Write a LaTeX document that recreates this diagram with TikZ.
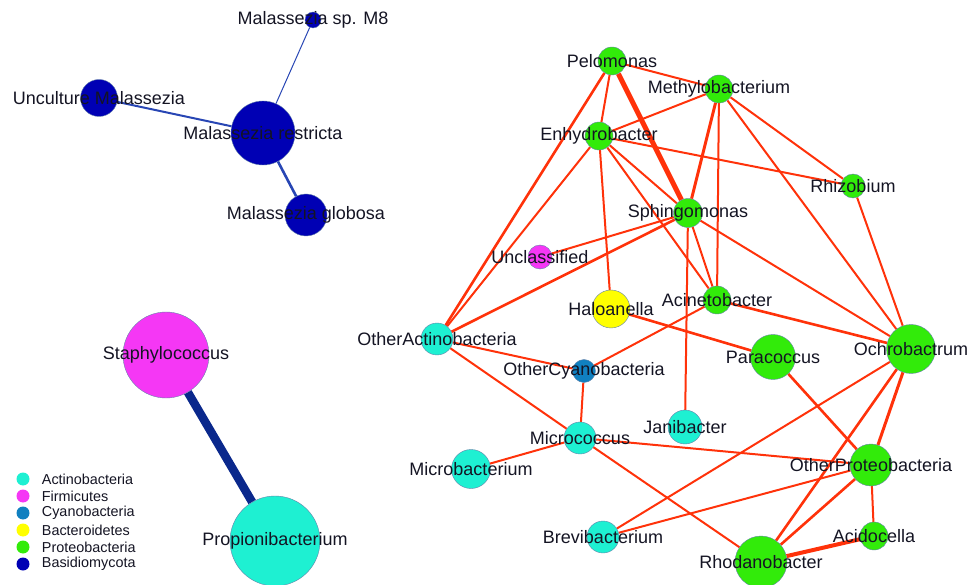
\documentclass[tikz,border=0pt]{standalone}
\usepackage{fontspec}
\setmainfont{Liberation Sans}
\usepackage{tikz}
\usetikzlibrary{positioning}
\pgfdeclarelayer{bg}
\pgfsetlayers{bg,main}
\definecolor{actino}{RGB}{30,240,210}
\definecolor{firmi}{RGB}{245,55,245}
\definecolor{cyano}{RGB}{16,128,192}
\definecolor{bactero}{RGB}{255,255,0}
\definecolor{proteo}{RGB}{50,235,10}
\definecolor{basidio}{RGB}{0,0,180}
\definecolor{rim}{RGB}{100,130,170}
\definecolor{edgered}{RGB}{255,50,10}
\definecolor{fungblue}{RGB}{40,70,180}
\definecolor{staphblue}{RGB}{10,40,140}
\definecolor{ink}{RGB}{20,20,35}

\begin{document}
\begin{tikzpicture}[x=1pt,y=-1pt,
    taxon/.style={circle,draw=rim,line width=0.4pt,inner sep=0pt,minimum size=#1},
    lab/.style={font=\fontsize{18}{20}\selectfont,text=ink,inner sep=0pt},
    link/.style={draw=edgered,line width=2pt},
    fung/.style={draw=fungblue,line width=#1}]
    \useasboundingbox (0,0) rectangle (972,585);

    % Malassezia cluster
    \node[taxon=16,fill=basidio,label={[lab]center:Malassezia sp. M8}] (msp) at (313,20) {};
    \node[taxon=37,fill=basidio,label={[lab]center:Unculture Malassezia}] (munc) at (99,98) {};
    \node[taxon=64,fill=basidio,label={[lab]center:Malassezia restricta}] (mres) at (263,133) {};
    \node[taxon=42,fill=basidio,label={[lab]center:Malassezia globosa}] (mglo) at (306,215) {};

    % Staphylococcus pair
    \node[taxon=86,fill=firmi,label={[lab]center:Staphylococcus}] (staph) at (166,355) {};
    \node[taxon=90,fill=actino,label={[lab]center:Propionibacterium}] (propi) at (275,541) {};

    % Bacterial network
    \node[taxon=28,fill=proteo,label={[lab]center:Pelomonas}] (pelo) at (612,61) {};
    \node[taxon=28,fill=proteo,label={[lab]center:Methylobacterium}] (methy) at (719,89) {};
    \node[taxon=28,fill=proteo,label={[lab]center:Enhydrobacter}] (enhy) at (599,136) {};
    \node[taxon=24,fill=proteo,label={[lab]center:Rhizobium}] (rhizo) at (853,186) {};
    \node[taxon=29,fill=proteo,label={[lab]center:Sphingomonas}] (sphin) at (688,213) {};
    \node[taxon=24,fill=firmi,label={[lab]center:Unclassified}] (uncl) at (540,257) {};
    \node[taxon=38,fill=bactero,label={[lab]center:Haloanella}] (halo) at (611,309) {};
    \node[taxon=28,fill=proteo,label={[lab]center:Acinetobacter}] (acine) at (717,300) {};
    \node[taxon=32,fill=actino,label={[lab]center:OtherActinobacteria}] (oactino) at (437,339) {};
    \node[taxon=49,fill=proteo,label={[lab]center:Ochrobactrum}] (ochro) at (911,349) {};
    \node[taxon=45,fill=proteo,label={[lab]center:Paracoccus}] (para) at (773,357) {};
    \node[taxon=23,fill=cyano,label={[lab]center:OtherCyanobacteria}] (ocyano) at (584,371) {};
    \node[taxon=34,fill=actino,label={[lab]center:Janibacter}] (jani) at (685,427) {};
    \node[taxon=32,fill=actino,label={[lab]center:Micrococcus}] (micro) at (580,438) {};
    \node[taxon=39,fill=actino,label={[lab]center:Microbacterium}] (mbact) at (471,469) {};
    \node[taxon=42,fill=proteo,label={[lab]center:OtherProteobacteria}] (oproteo) at (871,465) {};
    \node[taxon=32,fill=actino,label={[lab]center:Brevibacterium}] (brevi) at (603,537) {};
    \node[taxon=28,fill=proteo,label={[lab]center:Acidocella}] (acido) at (874,536) {};
    \node[taxon=52,fill=proteo,label={[lab]center:Rhodanobacter}] (rhoda) at (761,562) {};

    \begin{pgfonlayer}{bg}
    % fungal links
    \draw[fung=1pt] (mres) -- (msp);
    \draw[fung=2pt] (mres) -- (munc);
    \draw[fung=2.6pt] (mres) -- (mglo);
    \draw[draw=staphblue,line width=8.5pt] (staph) -- (propi);

    % bacterial links
    \draw[link,line width=5pt] (pelo) -- (sphin);
    \draw[link] (pelo) -- (methy);
    \draw[link] (pelo) -- (enhy);
    \draw[link,line width=2.6pt] (pelo) -- (oactino);
    \draw[link] (methy) -- (enhy);
    \draw[link,line width=3pt] (methy) -- (sphin);
    \draw[link] (methy) -- (acine);
    \draw[link] (methy) -- (rhizo);
    \draw[link] (methy) -- (ochro);
    \draw[link] (enhy) -- (rhizo);
    \draw[link] (enhy) -- (sphin);
    \draw[link] (enhy) -- (acine);
    \draw[link] (enhy) -- (halo);
    \draw[link] (enhy) -- (oactino);
    \draw[link] (sphin) -- (uncl);
    \draw[link,line width=2.6pt] (sphin) -- (oactino);
    \draw[link] (sphin) -- (acine);
    \draw[link] (sphin) -- (jani);
    \draw[link] (sphin) -- (ochro);
    \draw[link] (rhizo) -- (ochro);
    \draw[link,line width=2.6pt] (acine) -- (ochro);
    \draw[link] (acine) -- (ocyano);
    \draw[link,line width=2.6pt] (halo) -- (para);
    \draw[link] (oactino) -- (ocyano);
    \draw[link] (oactino) -- (micro);
    \draw[link] (ocyano) -- (micro);
    \draw[link] (micro) -- (mbact);
    \draw[link] (micro) -- (oproteo);
    \draw[link] (micro) -- (rhoda);
    \draw[link,line width=2.6pt] (para) -- (oproteo);
    \draw[link,line width=3pt] (ochro) -- (oproteo);
    \draw[link] (ochro) -- (brevi);
    \draw[link,line width=2.6pt] (ochro) -- (rhoda);
    \draw[link] (oproteo) -- (brevi);
    \draw[link] (oproteo) -- (acido);
    \draw[link,line width=2.6pt] (oproteo) -- (rhoda);
    \draw[link,line width=4pt] (acido) -- (rhoda);
    \end{pgfonlayer}

    % Legend
    \foreach \col/\phylum [count=\i] in {actino/Actinobacteria,firmi/Firmicutes,cyano/Cyanobacteria,bactero/Bacteroidetes,proteo/Proteobacteria,basidio/Basidiomycota}{
        \node[circle,fill=\col,inner sep=0pt,minimum size=13] (key\i) at (23,{479+17*(\i-1)}) {};
        \node[right=11pt of key\i,font=\fontsize{14.4}{16}\selectfont,text=ink,inner sep=1pt] (keytext\i) {\phylum};
    }
\end{tikzpicture}
\end{document}
